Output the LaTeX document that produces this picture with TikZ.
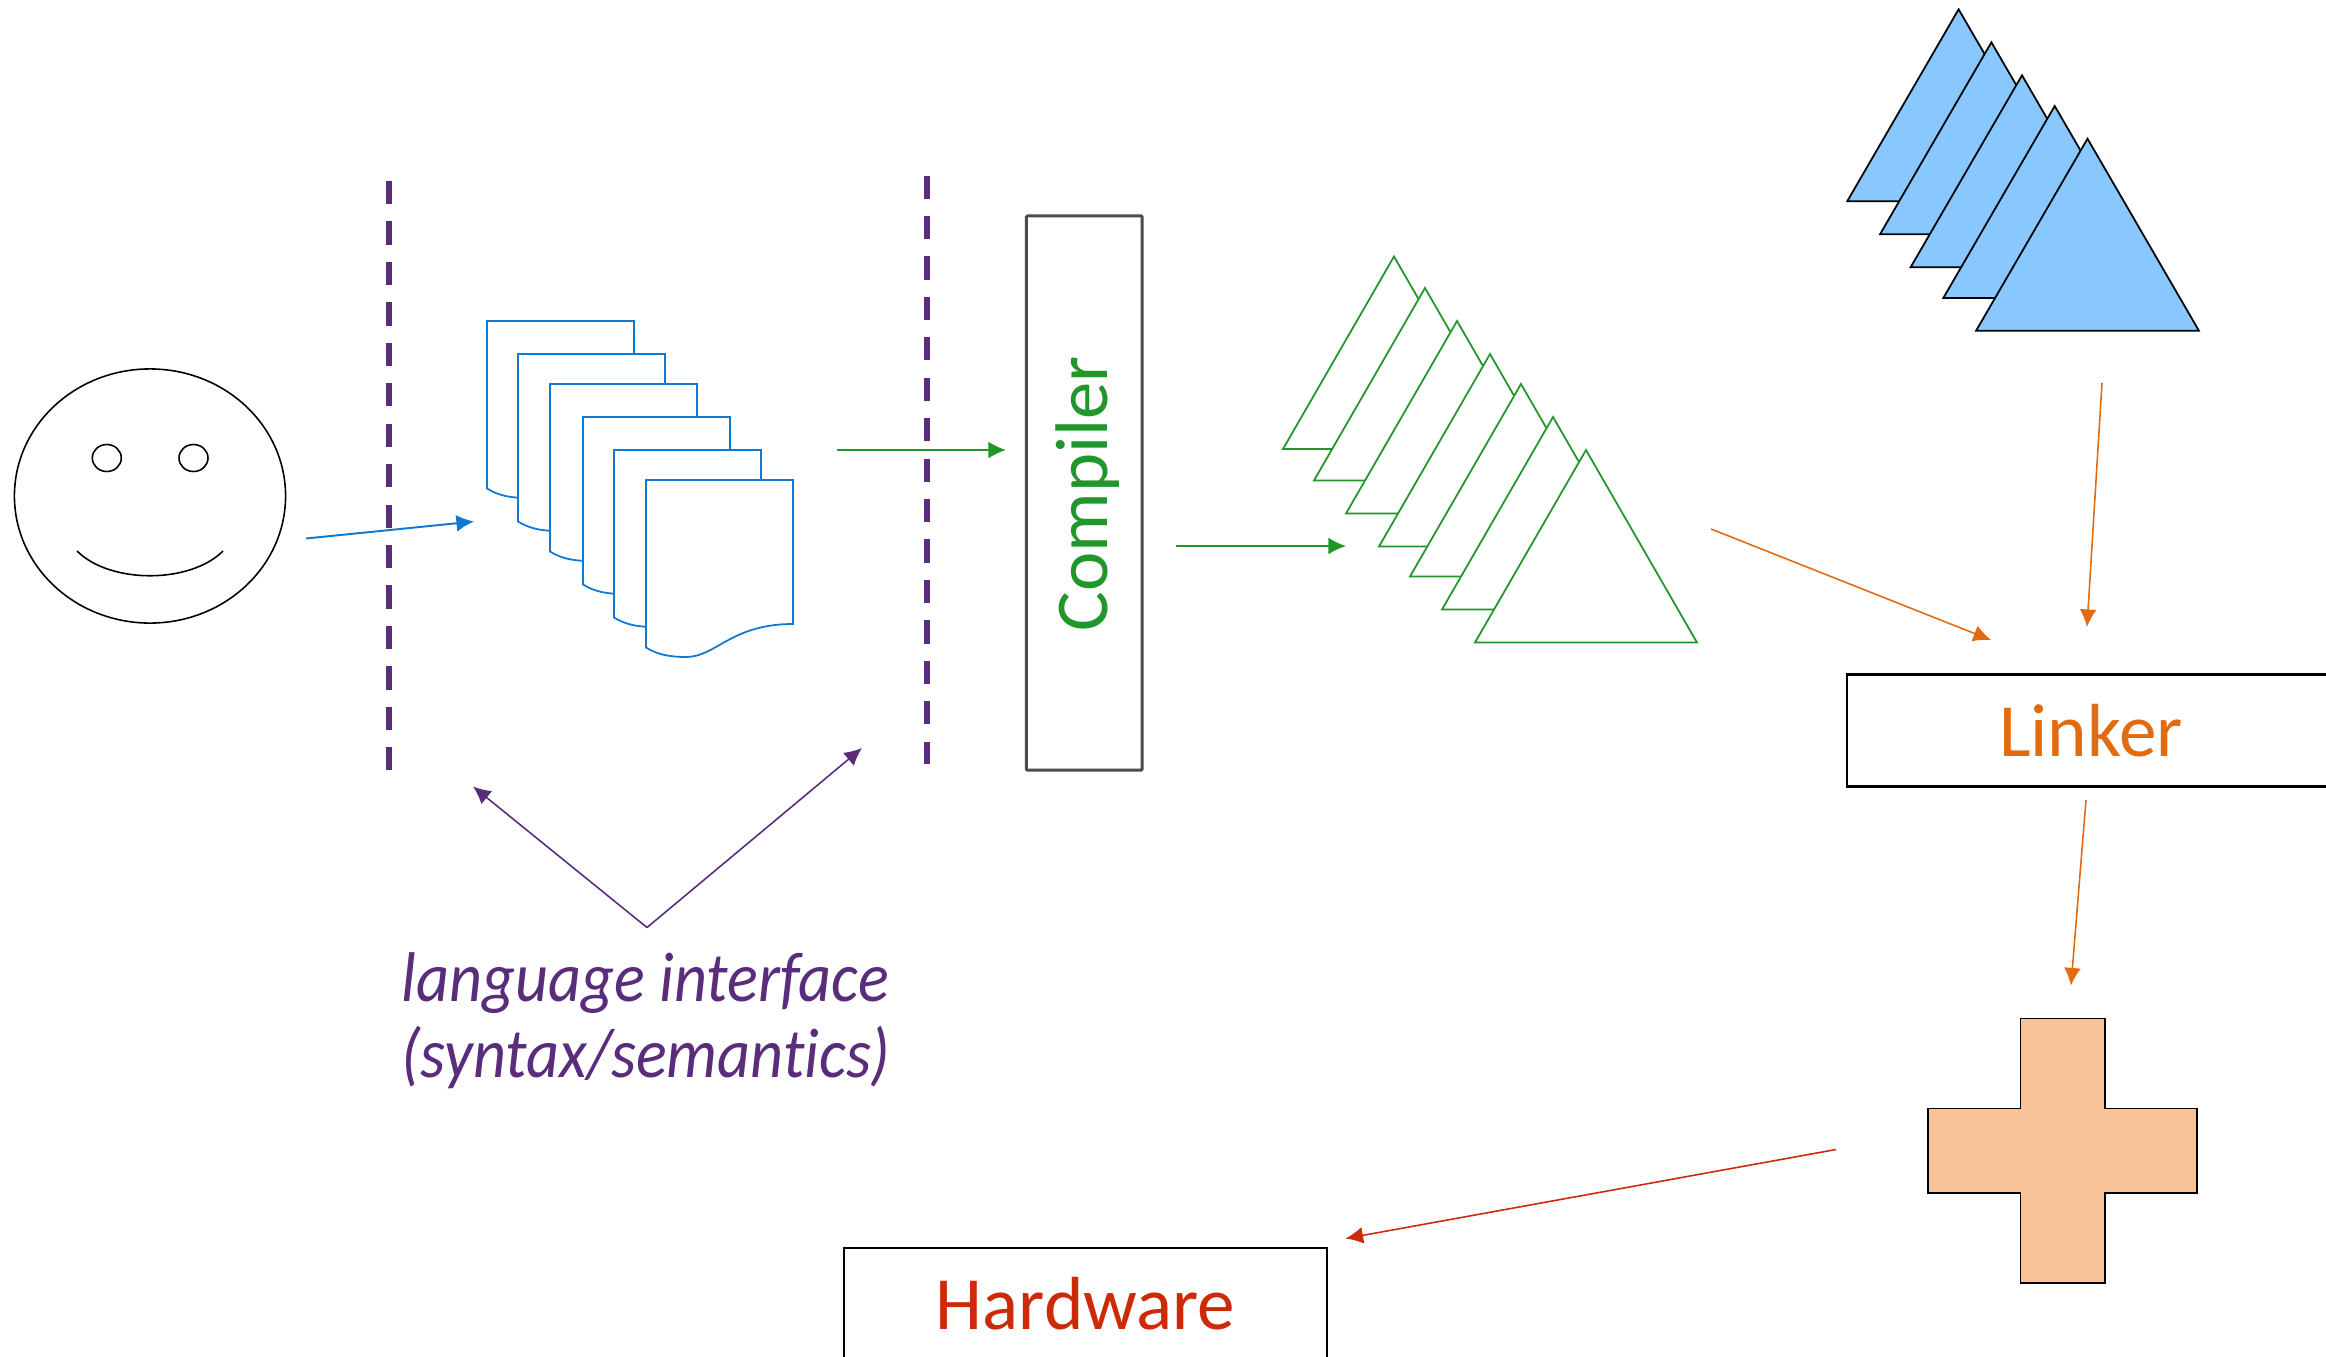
\documentclass[tikz,border=0pt]{standalone}
\usepackage{fontspec}
\setmainfont[Ligatures=CommonOff]{Carlito}
\newfontfamily\lblfont[Ligatures=CommonOff,FakeStretch=0.913]{Carlito}
\usetikzlibrary{arrows.meta, shapes.geometric}

\definecolor{cblue}{HTML}{0F78D0}
\definecolor{cgreen}{HTML}{21962A}
\definecolor{cpurple}{HTML}{592C7C}
\definecolor{corange}{HTML}{E26B10}
\definecolor{cred}{HTML}{CC2A08}
\definecolor{cfillb}{HTML}{88C8FF}
\definecolor{cfillo}{HTML}{F7C39B}

\begin{document}
\begin{tikzpicture}[x=0.01cm, y=-0.01cm, line width=0.45pt, line join=miter]

\tikzstyle{arr} = [-{Latex[length=5pt,width=4.8pt]}]
\tikzstyle{barrier} = [draw=cpurple, line width=1.7pt, dash pattern=on 6.6pt off 4.9pt]
\tikzstyle{lbl} = [draw=black, line width=0.6pt, inner sep=0pt, minimum height=1.12cm, font=\fontsize{21.4}{24}\selectfont]
\tikzstyle{eye} = [draw, ellipse, inner sep=0pt, minimum width=0.29cm, minimum height=0.27cm]

\clip (0,0) rectangle (2326,1357);

% the person
\node[draw, ellipse, inner sep=0pt, minimum width=2.71cm, minimum height=2.54cm] (face) at (150,496) {};
\node[eye] (eyeL) at (106.8,458) {};
\node[eye] (eyeR) at (193.5,458) {};
\draw (77,551) .. controls (110,584) and (190,584) .. (223,551);

% language interface lines
\coordinate (barA1) at (389,181);
\coordinate (barA2) at (389,770);
\coordinate (barB1) at (927,175.5);
\coordinate (barB2) at (927,764);
\draw[barrier] (barA1) -- (barA2);
\draw[barrier] (barB1) -- (barB2);

% source files
\foreach \x / \y in {487/321,518/354,550/384,583/417,614/450,646/480}
    \draw[draw=cblue, fill=white, line width=0.5pt] (\x,\y) -- ++(147,0) -- ++(0,144)
        .. controls +(-62,0) and +(30,0) .. ++(-107,33)
        .. controls +(-15,0) and +(12,7.5) .. ++(-40,-9.5) -- cycle;

% object files
\foreach \x / \y in {1394/256.5,1425/288,1457/321,1490/354,1521/384,1553/417,1586/450}
    \draw[draw=cgreen, fill=white, line width=0.5pt] (\x,\y) -- ++(111,192.5) -- ++(-222,0) -- cycle;

% libraries
\foreach \x / \y in {1958.6/9.3,1991.4/42.3,2022/75.3,2054.7/106,2087.5/138.7}
    \draw[draw=black, fill=cfillb, line width=0.5pt] (\x,\y) -- ++(111.4,192) -- ++(-222.8,0) -- cycle;

% boxes
\node[draw=black!70, fill=white, line width=0.85pt, rounded corners=0.3pt, inner sep=0pt, minimum width=1.155cm, minimum height=5.54cm] (compiler) at (1084.25,493) {};
\node[rotate=90, text=cgreen, font=\fontsize{21.2}{24}\selectfont] (compilerText) at (1088,493.5) {Compiler};
\node[lbl, text=corange, minimum width=4.88cm] (linker) at (2091,730.5) {Linker};
\node[lbl, text=cred, minimum width=4.83cm] (hardware) at (1085.5,1304) {Hardware};

% executable
\draw[draw=black, fill=cfillo, line width=0.55pt] (2020.5,1018.5) -- (2104.7,1018.5) -- (2104.7,1108.5) -- (2197,1108.5)
    -- (2197,1193) -- (2104.7,1193) -- (2104.7,1283) -- (2020.5,1283) -- (2020.5,1193) -- (1928,1193)
    -- (1928,1108.5) -- (2020.5,1108.5) -- cycle;

% label
\node[text=cpurple, align=left, inner sep=0pt, font=\fontsize{20}{21.5}\lblfont\itshape] (langLabel) at (646,1021) {language interface\\(syntax/semantics)};

% arrow ends
\coordinate (a1) at (306,538.5); \coordinate (a2) at (474,521.5);
\coordinate (b1) at (837,450);   \coordinate (b2) at (1006,450);
\coordinate (c1) at (1176,546);  \coordinate (c2) at (1346,546);
\coordinate (d1) at (1711,529);  \coordinate (d2) at (1991,640);
\coordinate (e1) at (2102,383);  \coordinate (e2) at (2087,627);
\coordinate (f1) at (2086,800);  \coordinate (f2) at (2071,985.5);
\coordinate (g1) at (1836,1149.5); \coordinate (g2) at (1345.5,1238.5);
\coordinate (h0) at (647,927.5); \coordinate (h1) at (473,786.5); \coordinate (h2) at (862,748);

% connect
\draw[arr, draw=cblue, fill=cblue, line width=0.55pt] (a1) -- (a2);
\draw[arr, draw=cgreen, line width=0.55pt] (b1) -- (b2);
\draw[arr, draw=cgreen, line width=0.55pt] (c1) -- (c2);
\draw[arr, draw=corange] (d1) -- (d2);
\draw[arr, draw=corange] (e1) -- (e2);
\draw[arr, draw=corange] (f1) -- (f2);
\draw[arr, draw=cred] (g1) -- (g2);
\draw[arr, draw=cpurple] (h0) -- (h1);
\draw[arr, draw=cpurple] (h0) -- (h2);

\end{tikzpicture}
\end{document}
